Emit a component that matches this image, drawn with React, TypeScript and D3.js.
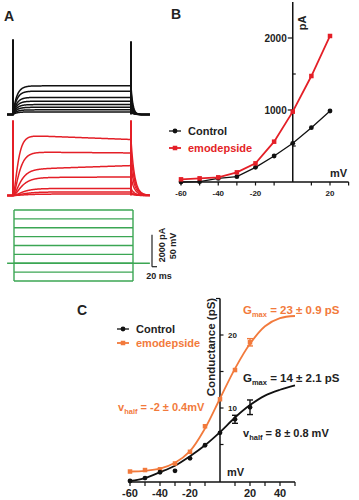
import React from "react";
import * as d3 from "d3";

// ---------- Panel A: raw traces ----------
const stepTimes = [0, 100]; // ms, step on / off
const controlLevels = [1790, 1460, 1070, 830, 620, 450, 290, 160]; // pA plateau
const emodStartLevels = [3780, 2720, 1620, 1120, 440, 220, 90]; // pA
const emodEndLevels = [3500, 2660, 1870, 1160, 440, 220, 90]; // pA
const spikePeakPA = 4700;
const voltageSteps = [0, -10, -20, -30, -40, -50, -60, -70, -80]; // mV
const holdingMV = -60;

// ---------- Panel B: I-V ----------
const ivVoltages = [-60, -50, -40, -30, -20, -10, 0, 10, 20];
const ivControl = [0, 5, 50, 74, 204, 361, 537, 755, 986];
const ivEmod = [37, 51, 65, 134, 259, 560, 977, 1472, 2028];
const bXTickLabels = [-60, -40, -20, 20];
const bXTicks = [-60, -50, -40, -30, -20, -10, 10, 20, 30];
const bYMajor = [1000, 2000];
const bYMinor = [500, 1500];

// ---------- Panel C: conductance ----------
const gVoltages = [-60, -50, -40, -30, -20, -10, 0, 10, 20];
const gControl = [0.0, 0.4, 1.2, 1.4, 3.1, 4.9, 6.6, 8.45, 10.1];
const gControlErr = [0, 0, 0, 0, 0, 0, 0, 0.55, 1.0];
const gEmod = [1.3, 1.5, 1.6, 2.4, 4.0, 7.5, 11.2, 15.2, 19.0];
const gEmodErr = [0, 0, 0, 0, 0, 0, 0, 0, 0.5];
const fitVoltages = [-60, -50, -40, -30, -20, -10, 0, 10, 20, 30, 40, 50];
const fitControl = [0.0, 0.4, 1.2, 2.1, 3.4, 4.9, 6.7, 8.7, 10.4, 11.7, 12.5, 13.1];
const fitEmod = [1.3, 1.4, 1.7, 2.5, 4.1, 7.2, 11.3, 15.4, 18.8, 21.2, 22.3, 22.6];
const cXTickLabels = [-60, -40, -20, 20, 40];
const cXTicks = [-60, -50, -40, -30, -20, -10, 10, 20, 30, 40, 50];
const cYLabels = [10, 20];
const cYTicks = [5, 10, 15, 20];

const FONT = "'Liberation Sans', Arial, Helvetica, sans-serif";
const RED = "#e41f27";
const ORANGE = "#f27a3c";
const GREEN = "#3ba653";
const BLACK = "#111";

function trace(level: number, levelEnd: number, tau: number, pw: number, tailTau: number) {
  const pts: [number, number][] = [[-5, 0], [0, 0]];
  for (let t = 0.25; t <= 100; t += 0.25) {
    const base = level + ((levelEnd - level) * t) / 100;
    pts.push([t, base * Math.pow(1 - Math.exp(-t / tau), pw)]);
  }
  for (let t = 100.25; t <= 116; t += 0.25) {
    pts.push([t, levelEnd * Math.exp(-(t - 100) / tailTau)]);
  }
  return pts;
}

export default function App() {
  // Panel A scales
  const xA = d3.scaleLinear().domain([0, 100]).range([13, 131]);
  const yBlack = d3.scaleLinear().domain([0, 2000]).range([114.5, 82.5]);
  const yRed = d3.scaleLinear().domain([0, 2000]).range([195.5, 163.5]);
  const yV = d3.scaleLinear().domain([-80, 0]).range([281, 210]);
  const lineA = (ys: d3.ScaleLinear<number, number>) =>
    d3.line<[number, number]>().x((d) => xA(d[0])).y((d) => ys(d[1]));

  // Panel B scales
  const xB = d3.scaleLinear().domain([-60, 20]).range([181, 330]);
  const yB = d3.scaleLinear().domain([0, 2000]).range([182, 38]);
  const lineB = d3.line<number>().x((_, i) => xB(ivVoltages[i]));

  // Panel C scales
  const xC = d3.scaleLinear().domain([-60, 50]).range([130, 295]);
  const yC = d3.scaleLinear().domain([0, 20]).range([481, 335]);
  const fitLine = d3
    .line<number>()
    .x((_, i) => xC(fitVoltages[i]))
    .y((d) => yC(d))
    .curve(d3.curveCatmullRom.alpha(0.5));

  const sq = (cx: number, cy: number, s: number, fill: string, key: string) => (
    <rect key={key} x={cx - s / 2} y={cy - s / 2} width={s} height={s} fill={fill} />
  );

  return (
    <svg
      width={359}
      height={500}
      style={{ position: "absolute", left: 0, top: 0, background: "#fff" }}
      fontFamily={FONT}
    >
      <rect width={359} height={500} fill="#fff" />
      {/* Panel labels */}
      <text x={4} y={21} fontSize={14} fontWeight="bold" fill="#222">A</text>
      <text x={171} y={19} fontSize={14} fontWeight="bold" fill="#222">B</text>
      <text x={77} y={315} fontSize={14} fontWeight="bold" fill="#222">C</text>

      {/* ===== Panel A: control traces ===== */}
      <g fill="none" stroke={BLACK} strokeWidth={1.5}>
        {controlLevels.map((lv, i) => (
          <path key={i} d={lineA(yBlack)(trace(lv, lv, 3.2, 1, 1.6)) || ""} />
        ))}
        {stepTimes.map((t, i) => (
          <line key={"s" + i} x1={xA(t)} x2={xA(t)} y1={yBlack(0)} y2={yBlack(spikePeakPA) + i * 2} strokeWidth={2} />
        ))}
      </g>
      {/* ===== Panel A: emodepside traces ===== */}
      <g fill="none" stroke={RED} strokeWidth={1.5}>
        {emodStartLevels.map((lv, i) => (
          <path key={i} d={lineA(yRed)(trace(lv, emodEndLevels[i], 3.2 + i * 0.9, 2, 3)) || ""} />
        ))}
        {stepTimes.map((t, i) => (
          <line key={"s" + i} x1={xA(t)} x2={xA(t)} y1={yRed(0)} y2={yRed(spikePeakPA)} strokeWidth={2} />
        ))}
      </g>
      {/* ===== Panel A: voltage protocol ===== */}
      <g fill="none" stroke={GREEN} strokeWidth={1.4}>
        {voltageSteps.map((v, i) => (
          <line key={i} x1={xA(0) + 1} x2={xA(100) + 2} y1={yV(v)} y2={yV(v)} />
        ))}
        <line x1={xA(0) + 1} x2={xA(0) + 1} y1={yV(0)} y2={yV(-80)} />
        <line x1={xA(100) + 2} x2={xA(100) + 2} y1={yV(0)} y2={yV(-80)} />
        <line x1={xA(-5)} x2={xA(116)} y1={yV(holdingMV)} y2={yV(holdingMV)} strokeWidth={1.6} />
      </g>
      {/* scale bar */}
      <g stroke="#222" strokeWidth={1.2}>
        <line x1={152} x2={152} y1={yBlack(0) + 152.2} y2={yBlack(2000) + 152.2} />
        <line x1={152} x2={157} y1={yBlack(0) + 152.2} y2={yBlack(0) + 152.2} />
      </g>
      <text transform="translate(165,245) rotate(-90)" textAnchor="middle" fontSize={9} fontWeight="bold" fill="#222">2000 pA</text>
      <text transform="translate(176,246) rotate(-90)" textAnchor="middle" fontSize={9} fontWeight="bold" fill="#222">50 mV</text>
      <text x={159} y={279} textAnchor="middle" fontSize={9} fontWeight="bold" fill="#222">20 ms</text>

      {/* ===== Panel B ===== */}
      <g stroke="#111" strokeWidth={1.5}>
        <line x1={xB(-60)} x2={xB(30)} y1={yB(0)} y2={yB(0)} />
        <line x1={xB(0)} x2={xB(0)} y1={yB(0)} y2={yB(2500)} />
        {bXTicks.map((v) => (
          <line key={v} x1={xB(v)} x2={xB(v)} y1={yB(0)} y2={yB(0) + 3.5} strokeWidth={1.2} />
        ))}
        {bYMajor.map((v) => (
          <line key={v} x1={xB(0) - 5} x2={xB(0)} y1={yB(v)} y2={yB(v)} strokeWidth={1.2} />
        ))}
        {bYMinor.map((v) => (
          <line key={v} x1={xB(0)} x2={xB(0) + 3} y1={yB(v)} y2={yB(v)} strokeWidth={1.2} />
        ))}
      </g>
      {bXTickLabels.map((v) => (
        <text key={v} x={xB(v)} y={196} textAnchor="middle" fontSize={8} fontWeight="bold" fill="#222">{v}</text>
      ))}
      {bYMajor.map((v) => (
        <text key={v} x={xB(0) - 6} y={yB(v) + 3.5} textAnchor="end" fontSize={10} fontWeight="bold" fill="#222">{v}</text>
      ))}
      <text transform={`translate(${xB(0) + 13},23) rotate(-90)`} textAnchor="middle" fontSize={11} fontWeight="bold" fill="#222">pA</text>
      <text x={330} y={177} fontSize={11} fontWeight="bold" fill="#222">mV</text>

      <path d={lineB.y((d) => yB(d))(ivControl) || ""} fill="none" stroke={BLACK} strokeWidth={1.3} />
      {ivControl.map((d, i) => (
        <circle key={i} cx={xB(ivVoltages[i])} cy={yB(d)} r={2.4} fill={BLACK} />
      ))}
      <path d={lineB.y((d) => yB(d))(ivEmod) || ""} fill="none" stroke={RED} strokeWidth={1.8} />
      {ivEmod.map((d, i) => sq(xB(ivVoltages[i]), yB(d), 4.5, RED, "e" + i))}

      {/* legend B */}
      <line x1={169} x2={181} y1={131} y2={131} stroke={BLACK} strokeWidth={1.3} />
      <circle cx={175} cy={131} r={2.4} fill={BLACK} />
      <text x={188} y={135} fontSize={11} fontWeight="bold" fill="#222">Control</text>
      <line x1={169} x2={181} y1={148} y2={148} stroke={RED} strokeWidth={1.8} />
      {sq(175, 148, 4.5, RED, "lb")}
      <text x={188} y={152} fontSize={11} fontWeight="bold" fill={RED}>emodepside</text>

      {/* ===== Panel C ===== */}
      <g stroke="#111" strokeWidth={1.5}>
        <line x1={xC(-60)} x2={xC(50)} y1={482} y2={482} />
        <line x1={xC(0)} x2={xC(0)} y1={482} y2={yC(25)} />
        {cXTicks.map((v) => (
          <line key={v} x1={xC(v)} x2={xC(v)} y1={482} y2={486} strokeWidth={1.2} />
        ))}
        {cYTicks.map((v) => (
          <line key={v} x1={xC(0)} x2={xC(0) + 3.5} y1={yC(v)} y2={yC(v)} strokeWidth={1.2} />
        ))}
        <line x1={xC(0) - 4} x2={xC(0)} y1={yC(25)} y2={yC(25)} strokeWidth={1.2} />
      </g>
      {cXTickLabels.map((v) => (
        <text key={v} x={xC(v)} y={497} textAnchor="middle" fontSize={11} fontWeight="bold" fill="#222">{v}</text>
      ))}
      {cYLabels.map((v) => (
        <text key={v} x={xC(0) + 8} y={yC(v) + 3} fontSize={8} fontWeight="bold" fill="#222">{v}</text>
      ))}
      <text transform={`translate(${xC(0) - 5},347) rotate(-90)`} textAnchor="middle" fontSize={11.5} fontWeight="bold" fill="#222">Conductance (pS)</text>
      <text x={227} y={476} fontSize={11} fontWeight="bold" fill="#222">mV</text>

      <path d={fitLine(fitEmod) || ""} fill="none" stroke={ORANGE} strokeWidth={1.8} />
      <path d={fitLine(fitControl) || ""} fill="none" stroke={BLACK} strokeWidth={1.8} />
      {gEmod.map((d, i) => (
        <g key={"oe" + i}>
          {gEmodErr[i] > 0 && (
            <g stroke={ORANGE} strokeWidth={1.4}>
              <line x1={xC(gVoltages[i])} x2={xC(gVoltages[i])} y1={yC(d - gEmodErr[i])} y2={yC(d + gEmodErr[i])} />
              <line x1={xC(gVoltages[i]) - 3} x2={xC(gVoltages[i]) + 3} y1={yC(d - gEmodErr[i])} y2={yC(d - gEmodErr[i])} />
              <line x1={xC(gVoltages[i]) - 3} x2={xC(gVoltages[i]) + 3} y1={yC(d + gEmodErr[i])} y2={yC(d + gEmodErr[i])} />
            </g>
          )}
          {sq(xC(gVoltages[i]), yC(d), 4.5, ORANGE, "os" + i)}
        </g>
      ))}
      {gControl.map((d, i) => (
        <g key={"ce" + i}>
          {gControlErr[i] > 0 && (
            <g stroke={BLACK} strokeWidth={1.4}>
              <line x1={xC(gVoltages[i])} x2={xC(gVoltages[i])} y1={yC(d - gControlErr[i])} y2={yC(d + gControlErr[i])} />
              <line x1={xC(gVoltages[i]) - 3} x2={xC(gVoltages[i]) + 3} y1={yC(d - gControlErr[i])} y2={yC(d - gControlErr[i])} />
              <line x1={xC(gVoltages[i]) - 3} x2={xC(gVoltages[i]) + 3} y1={yC(d + gControlErr[i])} y2={yC(d + gControlErr[i])} />
            </g>
          )}
          <circle cx={xC(gVoltages[i])} cy={yC(d)} r={2.4} fill={BLACK} />
        </g>
      ))}

      {/* legend C */}
      <line x1={117} x2={129} y1={329} y2={329} stroke={BLACK} strokeWidth={1.3} />
      <circle cx={123} cy={329} r={2.4} fill={BLACK} />
      <text x={136} y={333} fontSize={11} fontWeight="bold" fill="#222">Control</text>
      <line x1={117} x2={129} y1={343} y2={343} stroke={ORANGE} strokeWidth={1.8} />
      {sq(123, 343, 4.5, ORANGE, "lc")}
      <text x={136} y={347} fontSize={11} fontWeight="bold" fill={ORANGE}>emodepside</text>

      {/* annotations */}
      <text x={243} y={314} fontSize={11.5} fontWeight="bold" fill={ORANGE}>
        G<tspan fontSize={7.5} dy={3}>max</tspan><tspan dy={-3}> = 23 ± 0.9 pS</tspan>
      </text>
      <text x={243} y={382} fontSize={11.5} fontWeight="bold" fill="#222">
        G<tspan fontSize={7.5} dy={3}>max</tspan><tspan dy={-3}> = 14 ± 2.1 pS</tspan>
      </text>
      <text x={118} y={411} fontSize={11} fontWeight="bold" fill={ORANGE}>
        v<tspan fontSize={7.5} dy={3}>half</tspan><tspan dy={-3}> = -2 ± 0.4mV</tspan>
      </text>
      <text x={243} y={437} fontSize={11} fontWeight="bold" fill="#222">
        v<tspan fontSize={7.5} dy={3}>half</tspan><tspan dy={-3}> = 8 ± 0.8 mV</tspan>
      </text>
    </svg>
  );
}
